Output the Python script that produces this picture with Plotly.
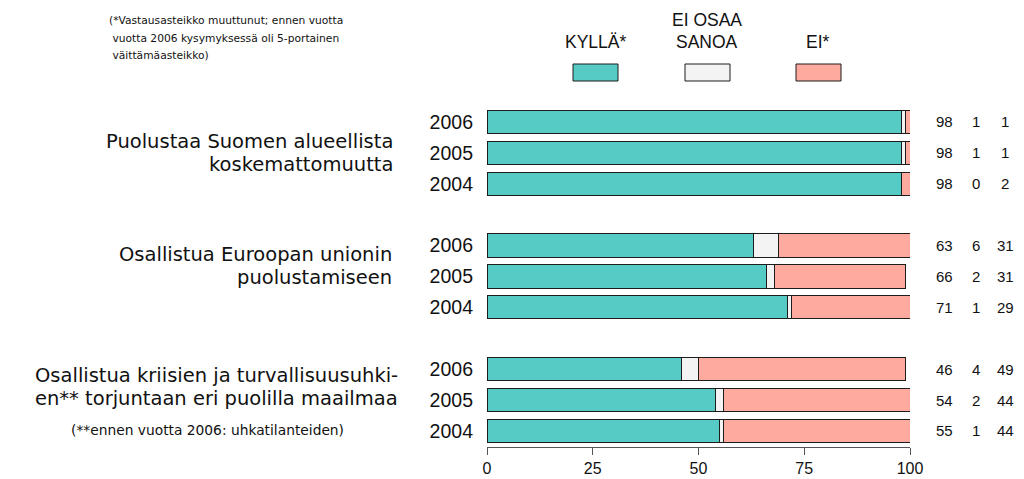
import plotly.graph_objects as go

# Survey results: share of respondents (%) per statement and year
statements = [
    ["Puolustaa Suomen alueellista", "koskemattomuutta"],
    ["Osallistua Euroopan unionin", "puolustamiseen"],
    ["Osallistua kriisien ja turvallisuusuhki-", "en** torjuntaan eri puolilla maailmaa"],
]
years = ["2006", "2005", "2004"]
series_names = ["KYLLÄ*", "EI OSAA SANOA", "EI*"]
kylla = [98, 98, 98, 63, 66, 71, 46, 54, 55]
eos = [1, 1, 0, 6, 2, 1, 4, 2, 1]
ei = [1, 1, 2, 31, 31, 29, 49, 44, 44]
x_ticks = [0, 25, 50, 75, 100]

note_top = [
    "(*Vastausasteikko muuttunut; ennen vuotta",
    "\u00a0vuotta 2006 kysymyksessä oli 5-portainen",
    "\u00a0väittämäasteikko)",
]
note_bottom = "(**ennen vuotta 2006: uhkatilanteiden)"

colors = ["#56CBC5", "#F3F3F3", "#FFAA9E"]
outline = "#1c1c1c"
FONT = "Liberation Sans, Arial, sans-serif"
WIDE = "DejaVu Sans, Verdana, sans-serif"

# one row per (statement, year), with an empty row between statements
row_y = [4 * g + i for g in range(len(statements)) for i in range(len(years))]
row_year = [years[i] for g in range(len(statements)) for i in range(len(years))]

W, H = 1024, 479
L, R, T, B = 487, 114, 105, 32
pw, ph = W - L - R, H - T - B


def px(xp):
    return (xp - L) / pw


def py(yp):
    return (H - B - yp) / ph


fig = go.Figure()
for name, vals, col in zip(series_names, [kylla, eos, ei], colors):
    fig.add_trace(go.Bar(
        x=vals, y=row_y, orientation="h", name=name, width=0.75,
        marker=dict(color=col, line=dict(color=outline, width=1)),
        cliponaxis=False, showlegend=False, hoverinfo="x+name",
    ))

ann = []
# value columns to the right of the bars
for col_px, vals in zip([944, 976, 1005], [kylla, eos, ei]):
    for yv, v in zip(row_y, vals):
        ann.append(dict(x=px(col_px), xref="paper", y=yv, yref="y", text=str(v),
                        showarrow=False, xanchor="center", yanchor="middle",
                        font=dict(size=15, color="#111")))

# statement labels, one annotation per line (offsets within each group of rows)
line_offsets = [(0.62, 1.37), (0.29, 1.04), (0.19, 0.94)]
label_right = [395, 394, 400]
for gi, (lines, offs, xr) in enumerate(zip(statements, line_offsets, label_right)):
    for line, off in zip(lines, offs):
        ann.append(dict(x=px(xr), xref="paper", y=4 * gi + off, yref="y",
                        text=line, showarrow=False, xanchor="right", yanchor="middle",
                        font=dict(family=WIDE, size=19.5, color="#111")))
ann.append(dict(x=px(207), xref="paper", y=9.97, yref="y", text=note_bottom,
                showarrow=False, xanchor="center", yanchor="middle",
                font=dict(family=WIDE, size=13.8, color="#111")))

# header note
for line, yp in zip(note_top, [20, 38, 55]):
    ann.append(dict(x=px(107), xref="paper", y=py(yp), yref="paper", text=line,
                    showarrow=False, xanchor="left", yanchor="middle",
                    font=dict(family=WIDE, size=10.7, color="#111")))

# legend: labels above swatches
legend_cx = [595, 707, 818]
legend_lines = [["KYLLÄ*"], ["EI OSAA", "SANOA"], ["EI*"]]
for cx, lines in zip(legend_cx, legend_lines):
    ys = [42] if len(lines) == 1 else [20, 42]
    for line, yp in zip(lines, ys):
        ann.append(dict(x=px(cx), xref="paper", y=py(yp), yref="paper", text=line,
                        showarrow=False, xanchor="center", yanchor="middle",
                        font=dict(size=17.5, color="#111")))

shapes = []
for cx, col in zip(legend_cx, colors):
    shapes.append(dict(type="rect", xref="paper", yref="paper",
                       x0=px(cx - 22), x1=px(cx + 23), y0=py(81), y1=py(64),
                       fillcolor=col, line=dict(color=outline, width=1)))

fig.update_layout(
    width=W, height=H, barmode="stack", showlegend=False,
    margin=dict(l=L, r=R, t=T, b=B, pad=0, autoexpand=False),
    paper_bgcolor="white", plot_bgcolor="white",
    font=dict(family=FONT, color="#111"),
    annotations=ann, shapes=shapes,
    xaxis=dict(range=[0, 100], tickvals=x_ticks, ticks="outside", ticklen=7,
               tickcolor="#555", showline=True, linecolor="#555", linewidth=1,
               showgrid=False, zeroline=False, automargin=False,
               tickfont=dict(size=16, color="#111")),
    yaxis=dict(range=[10.52, -0.55], tickvals=row_y, ticktext=row_year,
               ticks="", showline=False, showgrid=False, zeroline=False,
               automargin=False, ticklabelstandoff=13,
               tickfont=dict(size=19.5, color="#111")),
)

fig.write_html("out.html")
